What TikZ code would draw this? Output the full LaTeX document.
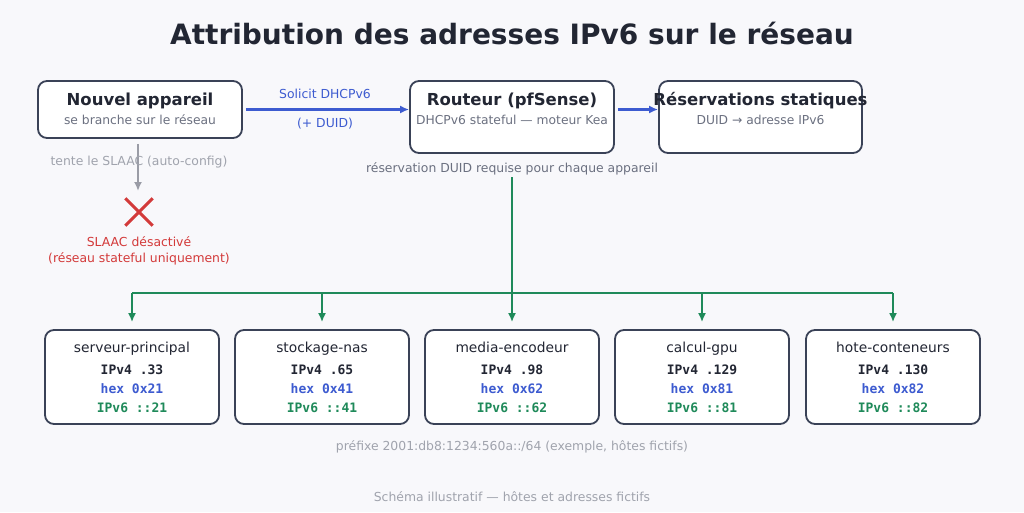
\documentclass[tikz,border=0pt]{standalone}
\usepackage{fontspec}
\setmainfont{DejaVu Sans}
\setmonofont{DejaVu Sans Mono}
\usetikzlibrary{arrows.meta}
\definecolor{bgc}{HTML}{F8F8FB}
\definecolor{darkc}{HTML}{222633}
\definecolor{borderc}{HTML}{3A4257}
\definecolor{subc}{HTML}{6B7080}
\definecolor{lightc}{HTML}{A0A3AD}
\definecolor{bluec}{HTML}{3D5BD0}
\definecolor{greenc}{HTML}{1F8A5A}
\definecolor{redc}{HTML}{D33A3A}
\definecolor{grayarr}{HTML}{9A9CA6}
\tikzset{
  box/.style={draw=borderc, line width=1.8pt, fill=white, rounded corners=9pt, inner sep=0pt},
  txt/.style={inner sep=0pt, text height=0.75em, text depth=0.25em, yshift=-2pt},
  btitle/.style={txt, font=\bfseries\fontsize{16.5}{19}\selectfont, text=darkc},
  bsub/.style={txt, font=\fontsize{12.3}{14}\selectfont, text=subc},
  small/.style={txt, font=\fontsize{12.4}{14}\selectfont},
  dname/.style={txt, font=\fontsize{13.8}{16}\selectfont, text=darkc},
  dmono/.style={txt, font=\ttfamily\bfseries\fontsize{13}{15}\selectfont},
  tip/.style={-{Latex[length=9pt,width=8pt]}},
}
\begin{document}
\begin{tikzpicture}[x=1pt,y=-1pt]
\fill[bgc] (0,0) rectangle (1024,512);
\useasboundingbox (0,0) rectangle (1024,512);

\node[txt, font=\bfseries\fontsize{28}{32}\selectfont, text=darkc] (title) at (512,40) {Attribution des adresses IPv6 sur le réseau};

% top boxes
\node[box, minimum width=204pt, minimum height=57pt] (nouvel) at (140,109.5) {};
\node[btitle] (nouvelT) at (140,101) {Nouvel appareil};
\node[bsub] (nouvelS) at (140,120) {se branche sur le réseau};

\node[box, minimum width=204pt, minimum height=72pt] (routeur) at (512,117) {};
\node[btitle] (routeurT) at (512,101) {Routeur (pfSense)};
\node[bsub] (routeurS) at (512,120) {DHCPv6 stateful — moteur Kea};

\node[box, minimum width=203pt, minimum height=72pt] (reserv) at (760.5,117) {};
\node[btitle] (reservT) at (760.5,101) {Réservations statiques};
\node[bsub] (reservS) at (760.5,120) {DUID → adresse IPv6};

% blue arrows
\draw[bluec, line width=2.6pt, tip] (nouvel.east) ++(3,0) -- (nouvel.east -| routeur.west);
\node[small, text=bluec] (sol) at (325,94) {Solicit DHCPv6};
\node[small, text=bluec] (duid) at (325,123) {(+ DUID)};
\draw[bluec, line width=2.6pt, tip] (routeur.east |- nouvel.east) ++(3,0) -- (reserv.west |- nouvel.east);

% SLAAC branch
\coordinate (slaacEnd) at (138,191);
\draw[grayarr, line width=2.6pt, tip] (nouvel.south -| slaacEnd) ++(0,5) -- (slaacEnd);
\node[small, text=lightc] (tente) at (139,161) {tente le SLAAC (auto-config)};
\node[inner sep=0pt, minimum width=27pt, minimum height=27pt] (cross) at (139,212) {};
\draw[redc, line width=3pt] (cross.north west) -- (cross.south east) (cross.north east) -- (cross.south west);
\node[small, text=redc] (slaacOff) at (139,242) {SLAAC désactivé};
\node[small, text=redc] (stateful) at (139,258) {(réseau stateful uniquement)};

\node[small, text=subc] (resDUID) at (512,168) {réservation DUID requise pour chaque appareil};

% devices
\foreach \i/\x/\nm/\vfour/\hx in {1/132/serveur-principal/33/21, 2/322/stockage-nas/65/41, 3/512/media-encodeur/98/62, 4/702/calcul-gpu/129/81, 5/893/hote-conteneurs/130/82}{
  \node[box, minimum width=174pt, minimum height=94pt] (dev\i) at (\x,377) {};
  \node[dname] (dev\i n) at (\x,348) {\nm};
  \node[dmono, text=darkc] (dev\i a) at (\x,370) {IPv4 .\vfour};
  \node[dmono, text=bluec] (dev\i b) at (\x,389) {hex 0x\hx};
  \node[dmono, text=greenc] (dev\i c) at (\x,408) {IPv6 ::\hx};
}

% green bus
\coordinate (busL) at (132,293);
\coordinate (busR) at (893,293);
\draw[greenc, line width=2.6pt] (busL) -- (busR);
\draw[greenc, line width=2.6pt, tip] (resDUID.south) ++(0,2) -- ([yshift=7pt]dev3.north);
\foreach \i in {1,2,4,5}{
  \draw[greenc, line width=2.6pt, tip] (busL -| dev\i.north) -- ([yshift=7pt]dev\i.north);
}

\node[small, text=lightc] (prefix) at (512,446) {préfixe 2001:db8:1234:560a::/64 (exemple, hôtes fictifs)};
\node[small, text=lightc] (footer) at (512,497) {Schéma illustratif — hôtes et adresses fictifs};
\end{tikzpicture}
\end{document}
